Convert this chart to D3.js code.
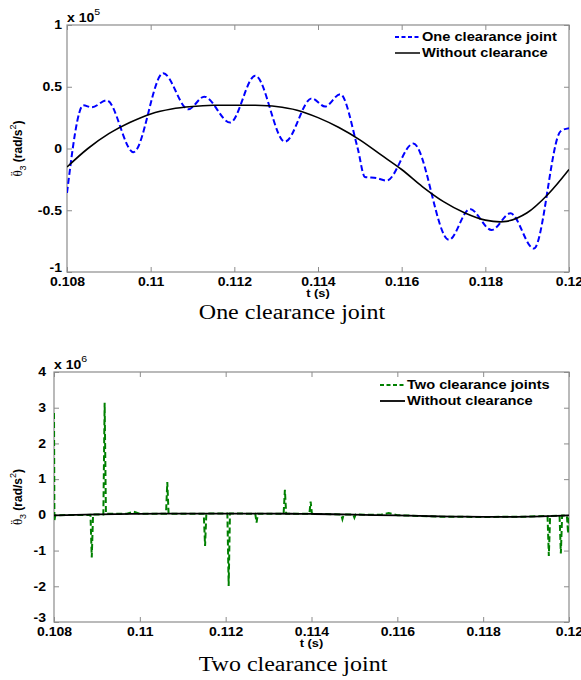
<!DOCTYPE html>
<html>
<head>
<meta charset="utf-8">
<style>
html,body{margin:0;padding:0;background:#fff;}
svg{display:block;}
text{font-family:"Liberation Sans",Arial,sans-serif;}
</style>
</head>
<body>
<svg width="581" height="680"></svg>
<script src="https://cdn.jsdelivr.net/npm/d3@7/dist/d3.min.js"></script>
<script>
// one clearance joint, theta3 acceleration (x 1e5 rad/s^2)
var tOne = [0.1080, 0.10839, 0.10859, 0.10895, 0.10959, 0.1103, 0.1109, 0.11128, 0.1119, 0.1125,
            0.11321, 0.11385, 0.11417, 0.11453, 0.11495, 0.11512, 0.1154, 0.11564, 0.11628, 0.11713,
            0.11763, 0.11815, 0.1186, 0.11916, 0.1198, 0.1200];
var oneClearance = [-0.36, 0.35, 0.333, 0.39, -0.03, 0.61, 0.317, 0.42, 0.21, 0.59,
                    0.055, 0.406, 0.34, 0.44, 0.0, -0.23, -0.24, -0.26, 0.04, -0.74,
                    -0.49, -0.66, -0.525, -0.81, 0.14, 0.165];

// without clearance (x 1e5 rad/s^2)
var tRef = [0.1080, 0.1085, 0.1090, 0.1095, 0.1100, 0.1105, 0.1110, 0.1115, 0.1120, 0.1125,
            0.1130, 0.1135, 0.1140, 0.1145, 0.1150, 0.1155, 0.1160, 0.1165, 0.1170, 0.1175,
            0.1180, 0.1185, 0.1190, 0.1195, 0.1200];
var withoutClearance = [-0.15, 0.0, 0.12, 0.21, 0.28, 0.32, 0.34, 0.35, 0.35, 0.35,
                        0.34, 0.31, 0.25, 0.17, 0.07, -0.05, -0.17, -0.31, -0.43, -0.52,
                        -0.58, -0.59, -0.52, -0.37, -0.17];

// two clearance joints (x 1e6 rad/s^2)
var tTwo = [0.10800, 0.10801, 0.10803, 0.10885, 0.10888, 0.10891, 0.10915, 0.10918, 0.10921, 0.10970,
            0.10985, 0.11000, 0.11061, 0.11064, 0.11067, 0.11149, 0.11152, 0.11155, 0.11204, 0.11207,
            0.11210, 0.11269, 0.11272, 0.11275, 0.11335, 0.11338, 0.11341, 0.11395, 0.11398, 0.11401,
            0.11469, 0.11472, 0.11475, 0.11497, 0.11500, 0.11503, 0.11560, 0.11580, 0.11600, 0.11700,
            0.11800, 0.11900, 0.11950, 0.11953, 0.11956, 0.11978, 0.11981, 0.11984, 0.11995, 0.11998,
            0.12000];
var twoClearance = [2.85, -0.16, -0.01, 0.00, -1.19, 0.01, 0.01, 3.14, 0.03, 0.03,
                    0.09, 0.03, 0.03, 0.92, 0.03, 0.03, -0.87, 0.04, 0.04, -1.99,
                    0.04, 0.03, -0.22, 0.03, 0.03, 0.70, 0.03, 0.03, 0.37, 0.03,
                    0.01, -0.12, 0.01, 0.01, -0.08, 0.01, 0.00, 0.05, -0.01, -0.05,
                    -0.06, -0.05, -0.03, -1.15, -0.03, -0.02, -1.08, -0.02, -0.02, -0.52,
                    -0.02];

var xTicks = [0.108, 0.110, 0.112, 0.114, 0.116, 0.118, 0.120];
var xTickLabels = ["0.108", "0.11", "0.112", "0.114", "0.116", "0.118", "0.12"];
var yTicksOne = [-1, -0.5, 0, 0.5, 1];
var yTickLabelsOne = ["-1", "-0.5", "0", "0.5", "1"];
var yTicksTwo = [-3, -2, -1, 0, 1, 2, 3, 4];
var yTickLabelsTwo = ["-3", "-2", "-1", "0", "1", "2", "3", "4"];

var svg = d3.select("svg");
var WIDE = 1.17; // the figure's text is drawn a bit wide

// stretch text horizontally without moving its anchor
function stretch(sel) {
  sel.each(function() {
    var t = d3.select(this);
    var x = +t.attr("x") || 0;
    t.attr("x", x / WIDE);
    t.attr("transform", (t.attr("transform") || "") + " scale(" + WIDE + ",1)");
  });
}

function drawPanel(p) {
  var x = d3.scaleLinear().domain([0.108, 0.12]).range([p.left, p.right]);
  var y = d3.scaleLinear().domain(p.yDomain).range([p.bottom, p.top]);
  var g = svg.append("g");

  g.append("clipPath").attr("id", p.id)
    .append("rect").attr("x", p.left).attr("y", p.top)
    .attr("width", p.right - p.left).attr("height", p.bottom - p.top);

  // axes, MATLAB style ticks pointing inward
  var axB = g.append("g").attr("transform", "translate(0," + p.bottom + ")")
    .call(d3.axisBottom(x).tickValues(xTicks).tickFormat(function(d, i) { return xTickLabels[i]; })
      .tickSizeInner(-5).tickSizeOuter(0).tickPadding(5));
  var axT = g.append("g").attr("transform", "translate(0," + p.top + ")")
    .call(d3.axisTop(x).tickValues(xTicks).tickFormat("").tickSizeInner(-5).tickSizeOuter(0));
  var axL = g.append("g").attr("transform", "translate(" + p.left + ",0)")
    .call(d3.axisLeft(y).tickValues(p.yTicks).tickFormat(function(d, i) { return p.yLabels[i]; })
      .tickSizeInner(-5).tickSizeOuter(0).tickPadding(p.yPad));
  var axR = g.append("g").attr("transform", "translate(" + p.right + ",0)")
    .call(d3.axisRight(y).tickValues(p.yTicks).tickFormat("").tickSizeInner(-5).tickSizeOuter(0));
  [axB, axT, axL, axR].forEach(function(a) {
    a.select(".domain").remove();
    a.selectAll("line").attr("stroke", "#8c8c8c");
    a.selectAll("text").attr("fill", "#000").style("font-family", "'Liberation Sans', Arial, sans-serif")
      .style("font-weight", "bold").style("font-size", "12px");
  });
  // lowest y label sits a little higher, as in the figure
  axL.selectAll(".tick").filter(function(d) { return d === p.yDomain[0]; })
    .select("text").attr("dy", "-0.05em");
  stretch(axB.selectAll("text"));
  stretch(axL.selectAll("text"));

  g.append("rect").attr("x", p.left).attr("y", p.top)
    .attr("width", p.right - p.left).attr("height", p.bottom - p.top)
    .attr("fill", "none").attr("stroke", "#8c8c8c").attr("stroke-width", 1.2);

  var plot = g.append("g").attr("clip-path", "url(#" + p.id + ")");
  p.series.forEach(function(s) {
    var line = d3.line()
      .x(function(d) { return x(d[0]); })
      .y(function(d) { return y(d[1]); })
      .curve(s.curve);
    plot.append("path")
      .datum(d3.zip(s.t, s.v))
      .attr("fill", "none")
      .attr("stroke", s.color)
      .attr("stroke-width", s.width)
      .attr("stroke-dasharray", s.dash)
      .attr("d", line);
  });

  // exponent
  var ex = g.append("text").attr("x", p.left).attr("y", p.top - 3)
    .style("font-weight", "bold").style("font-size", "12px").text("x 10");
  ex.append("tspan").attr("dy", -7).style("font-size", "9px").style("font-weight", "normal").text(p.exponent);
  stretch(ex);

  // x label
  stretch(g.append("text").attr("x", (p.left + p.right) / 2).attr("y", p.bottom + 25)
    .attr("text-anchor", "middle").style("font-weight", "bold").style("font-size", "11px").text("t (s)"));

  // y label: theta double dot, subscript 3
  var yl = g.append("text")
    .attr("transform", "translate(" + p.yLabelX + "," + ((p.top + p.bottom) / 2) + ") rotate(-90)")
    .attr("text-anchor", "middle").style("font-weight", "bold").style("font-size", "12px");
  yl.append("tspan").style("font-family", "'Liberation Serif', serif").style("font-weight", "normal")
    .style("font-size", "13px").text("\u03B8");
  yl.append("tspan").attr("dx", -5.8).attr("dy", -3).style("font-family", "'Liberation Serif', serif")
    .style("font-weight", "normal").style("font-size", "13px").text("\u00A8");
  yl.append("tspan").attr("dx", 1.2).attr("dy", 7).style("font-size", "9px").style("font-weight", "normal").text("3");
  yl.append("tspan").attr("dy", -4).text(" (rad/s");
  yl.append("tspan").attr("dy", -6).style("font-size", "9px").style("font-weight", "normal").text("2");
  yl.append("tspan").attr("dy", 6).text(")");

  // legend
  p.series.forEach(function(s, i) {
    var ly = p.legendY + i * 16;
    g.append("line").attr("x1", p.legendX).attr("x2", p.legendX + 25)
      .attr("y1", ly).attr("y2", ly)
      .attr("stroke", s.color).attr("stroke-width", s.width > 1.6 ? 1.8 : 1.5)
      .attr("stroke-dasharray", s.dash ? "4,2.5" : null);
    stretch(g.append("text").attr("x", p.legendX + 27).attr("y", ly + 4.5)
      .style("font-weight", "bold").style("font-size", "12.5px").text(s.name));
  });

  // caption
  stretch(g.append("text").attr("x", p.captionX).attr("y", p.captionY).attr("text-anchor", "middle")
    .style("font-family", "'Liberation Serif', 'Times New Roman', serif").style("font-size", "20.5px")
    .text(p.caption));
}

drawPanel({
  id: "clipOne", left: 67, right: 569, top: 25, bottom: 272,
  yDomain: [-1, 1], yTicks: yTicksOne, yLabels: yTickLabelsOne, yPad: 5,
  exponent: "5", yLabelX: 22, legendX: 395, legendY: 37,
  captionX: 292, captionY: 319, caption: "One clearance joint",
  series: [
    { name: "One clearance joint", t: tOne, v: oneClearance, color: "#0000ff", width: 2, dash: "6,3", curve: d3.curveMonotoneX },
    { name: "Without clearance", t: tRef, v: withoutClearance, color: "#000", width: 1.6, dash: null, curve: d3.curveCatmullRom }
  ]
});

drawPanel({
  id: "clipTwo", left: 54, right: 569, top: 372, bottom: 622,
  yDomain: [-3, 4], yTicks: yTicksTwo, yLabels: yTickLabelsTwo, yPad: 8,
  exponent: "6", yLabelX: 22, legendX: 380, legendY: 385,
  captionX: 293, captionY: 671, caption: "Two clearance joint",
  series: [
    { name: "Two clearance joints", t: tTwo, v: twoClearance, color: "#008000", width: 2, dash: "6,3", curve: d3.curveLinear },
    { name: "Without clearance", t: tRef, v: withoutClearance.map(function(v) { return v / 10; }), color: "#000", width: 1.8, dash: null, curve: d3.curveCatmullRom }
  ]
});
</script>
</body>
</html>
